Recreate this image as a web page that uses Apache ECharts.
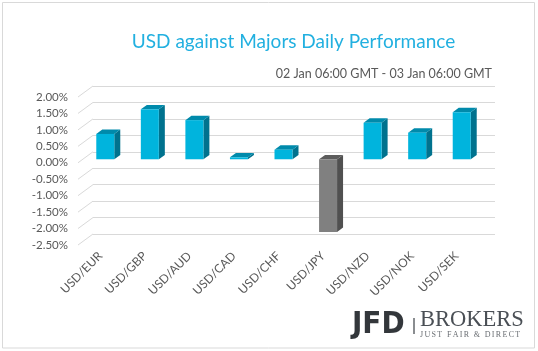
<!DOCTYPE html>
<html><head><meta charset="utf-8">
<script src="https://cdn.jsdelivr.net/npm/echarts@6/dist/echarts.min.js"></script>
<style>html,body{margin:0;padding:0;background:#fff}#c{width:538px;height:351px}</style>
</head><body><div id="c"></div>
<script>
const categories = ['USD/EUR','USD/GBP','USD/AUD','USD/CAD','USD/CHF','USD/JPY','USD/NZD','USD/NOK','USD/SEK'];
const values = [0.77, 1.52, 1.19, 0.06, 0.29, -2.21, 1.11, 0.81, 1.43];
const yTicks = [2.0, 1.5, 1.0, 0.5, 0, -0.5, -1.0, -1.5, -2.0, -2.5];
const titleText = 'USD against Majors Daily Performance';
const subtitleText = '02 Jan 06:00 GMT - 03 Jan 06:00 GMT';

const chart = echarts.init(document.getElementById('c'), null, {renderer: 'canvas'});
const TXT = '#595959';
const GRID = '#d9d9d9';

function yAx(idx, showLabel, showSplit) {
  return {
    type: 'value', gridIndex: idx, min: -2.5, max: 2.0, interval: 0.5,
    axisLine: {show: false}, axisTick: {show: false},
    axisLabel: {show: showLabel, color: TXT, fontFamily: 'Lato', fontSize: 11.5, margin: 10,
      formatter: v => v.toFixed(2) + '%'},
    splitLine: {show: showSplit, lineStyle: {color: GRID, width: 1}}
  };
}
function xAx(idx, showLabel) {
  return {
    type: 'category', gridIndex: idx, data: categories,
    axisLine: {show: false}, axisTick: {show: false},
    axisLabel: {show: showLabel, rotate: 45, color: TXT, fontFamily: 'Lato', fontSize: 12, margin: 9, interval: 0},
    splitLine: {show: false}
  };
}

function renderBar(params, api) {
  const i = api.value(0), v = api.value(1);
  const p0 = api.coord([i, 0]);
  const p1 = api.coord([i, v]);
  const bw = api.size([1, 0])[0] * 0.404;
  const x0 = p0[0] - bw / 2, x1 = p0[0] + bw / 2;
  const yTop = Math.min(p0[1], p1[1]), yBot = Math.max(p0[1], p1[1]);
  const dx = 6, dy = -4.4;
  const neg = v < 0;
  const front = neg ? '#808080' : '#00b4dd';
  const side = neg ? '#505050' : '#00728e';
  const top = neg ? '#5c5c5c' : '#008aab';
  return {type: 'group', children: [
    {type: 'polygon', shape: {points: [[x1, yTop], [x1 + dx, yTop + dy], [x1 + dx, yBot + dy], [x1, yBot]]}, style: {fill: side}},
    {type: 'polygon', shape: {points: [[x0, yTop], [x0 + dx, yTop + dy], [x1 + dx, yTop + dy], [x1, yTop]]}, style: {fill: top}},
    {type: 'rect', shape: {x: x0, y: yTop, width: bw, height: yBot - yTop}, style: {fill: front}}
  ]};
}

function renderDiag(params, api) {
  const p = api.coord([0, api.value(1)]);
  const x = params.coordSys.x;
  return {type: 'line', shape: {x1: x, y1: p[1], x2: x + 15, y2: p[1] - 11},
    style: {stroke: GRID, lineWidth: 1}};
}

const tagline = 'JUST FAIR & DIRECT'.split('').join('\u2006');

chart.setOption({
  animation: false,
  backgroundColor: '#fff',
  grid: [
    {left: 83, right: 54, top: 93.5, bottom: 109.5},
    {left: 93, right: 43, top: 86, bottom: 117},
    {left: 78, right: 59, top: 97, bottom: 106}
  ],
  xAxis: [xAx(0, false), xAx(1, false), xAx(2, true)],
  yAxis: [yAx(0, false, false), yAx(1, false, true), yAx(2, true, false)],
  series: [
    {type: 'custom', xAxisIndex: 2, yAxisIndex: 2, renderItem: renderDiag,
      data: yTicks.map(v => [0, v]), z: 1, silent: true},
    {type: 'custom', xAxisIndex: 0, yAxisIndex: 0, renderItem: renderBar,
      data: categories.map((c, i) => [i, values[i]]), z: 5}
  ],
  graphic: [
    {type: 'rect', shape: {x: 2.5, y: 2.5, width: 532, height: 345.5},
      style: {fill: 'none', stroke: '#d9d9d9', lineWidth: 1}, z: 0},
    {type: 'text', x: 293.5, y: 42, style: {text: titleText, fill: '#22b0e0', font: '19px Lato', align: 'center', verticalAlign: 'middle'}},
    {type: 'text', x: 492, y: 74, style: {text: subtitleText, fill: TXT, font: '12.5px Lato', align: 'right', verticalAlign: 'middle'}},
    {type: 'text', x: 352, y: 324.5, style: {text: 'JFD', fill: '#33373b', font: 'bold 31px "DejaVu Sans Condensed", "DejaVu Sans"', align: 'left', verticalAlign: 'middle'}},
    {type: 'rect', shape: {x: 413, y: 318, width: 2, height: 16}, style: {fill: '#8a8d90'}},
    {type: 'text', x: 420, y: 320, style: {text: 'BROKERS', fill: '#4a4f55', font: '22.5px "Liberation Serif"', align: 'left', verticalAlign: 'middle'}},
    {type: 'text', x: 420, y: 334.5, style: {text: tagline, fill: '#6a6e73', font: '8px "Liberation Serif"', align: 'left', verticalAlign: 'middle'}}
  ]
});
</script></body></html>
